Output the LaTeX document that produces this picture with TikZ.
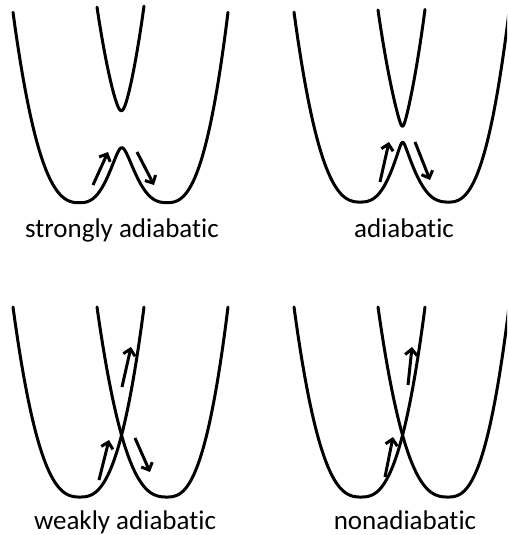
\documentclass[tikz,border=0pt]{standalone}
\usepackage{fontspec}
\setmainfont{Carlito}[Ligatures={NoCommon,NoContextual}]
\usetikzlibrary{arrows.meta}
\tikzset{
  pes/.style={line width=3pt, line join=round, line cap=round},
  flow/.style={line width=3pt, -{Straight Barb[length=6pt,width=12pt]}},
  lbl/.style={font=\fontsize{27}{32}\selectfont, anchor=base, inner sep=0pt},
}
\begin{document}
\begin{tikzpicture}[x=1pt,y=-1pt,
  declare function={
    VA(\u)=1.9*pow((abs(\u-80)+0.001)/(((\u)<80)?67:64),2.6);
    VB(\u)=1.9*pow((abs(\u-167)+0.001)/(((\u)<167)?70:61),2.6);
    Bump(\u,\s)=\s*exp(-((\u-122)/22)^2);
    Elo(\u,\d,\s)=(VA(\u)+VB(\u))/2+Bump(\u,\s)-sqrt(((VA(\u)-VB(\u))/2)^2+\d^2);
    Ehi(\u,\d,\s)=(VA(\u)+VB(\u))/2+Bump(\u,\s)+sqrt(((VA(\u)-VB(\u))/2)^2+\d^2);
  }]
\useasboundingbox (0,0) rectangle (507,535);
\clip (0,0) rectangle (507,535);

% ---- panel 1: strongly adiabatic
\begin{scope}
  \draw[pes] plot[domain=13:228, samples=160, smooth] (\x,{202-100*Elo(\x,0.185,0.11)});
  \draw[pes] plot[domain=97:144, samples=80, smooth] (\x,{202-100*Ehi(\x,0.185,0.11)});
  \coordinate (a1s) at (93,185); \coordinate (a1e) at (108,152);
  \coordinate (b1s) at (137,152); \coordinate (b1e) at (154,185);
  \draw[flow] (a1s) -- (a1e);
  \draw[flow] (b1s) -- (b1e);
\end{scope}
\node[lbl] (t1) at (122,237) {strongly adiabatic};

% ---- panel 2: adiabatic
\begin{scope}[shift={(281,0)}]
  \draw[pes] plot[domain=13:228, samples=160, smooth] (\x,{202-100*Elo(\x,0.08,0.06)});
  \draw[pes] plot[domain=97:144, samples=80, smooth] (\x,{202-100*Ehi(\x,0.08,0.06)});
  \coordinate (a2s) at (99,182); \coordinate (a2e) at (108,142);
  \coordinate (b2s) at (134,142); \coordinate (b2e) at (149,180);
  \draw[flow] (a2s) -- (a2e);
  \draw[flow] (b2s) -- (b2e);
\end{scope}
\node[lbl] (t2) at (404,237) {adiabatic};

% ---- panel 3: weakly adiabatic
\begin{scope}[shift={(0,295)}]
  \draw[pes] plot[domain=13:144, samples=120, smooth] (\x,{202-100*VA(\x)});
  \draw[pes] plot[domain=97:228, samples=120, smooth] (\x,{202-100*VB(\x)});
  \coordinate (a3s) at (99,185); \coordinate (a3e) at (109,145);
  \coordinate (c3s) at (122,92); \coordinate (c3e) at (131,52);
  \coordinate (b3s) at (135,143); \coordinate (b3e) at (150,177);
  \draw[flow] (a3s) -- (a3e);
  \draw[flow] (c3s) -- (c3e);
  \draw[flow] (b3s) -- (b3e);
\end{scope}
\node[lbl] (t3) at (125,529) {weakly adiabatic};

% ---- panel 4: nonadiabatic
\begin{scope}[shift={(281,295)}]
  \draw[pes] plot[domain=13:144, samples=120, smooth] (\x,{202-100*VA(\x)});
  \draw[pes] plot[domain=97:228, samples=120, smooth] (\x,{202-100*VB(\x)});
  \coordinate (a4s) at (104,182); \coordinate (a4e) at (112,142);
  \coordinate (c4s) at (127,90); \coordinate (c4e) at (131,52);
  \draw[flow] (a4s) -- (a4e);
  \draw[flow] (c4s) -- (c4e);
\end{scope}
\node[lbl] (t4) at (405,529) {nonadiabatic};
\end{tikzpicture}
\end{document}
